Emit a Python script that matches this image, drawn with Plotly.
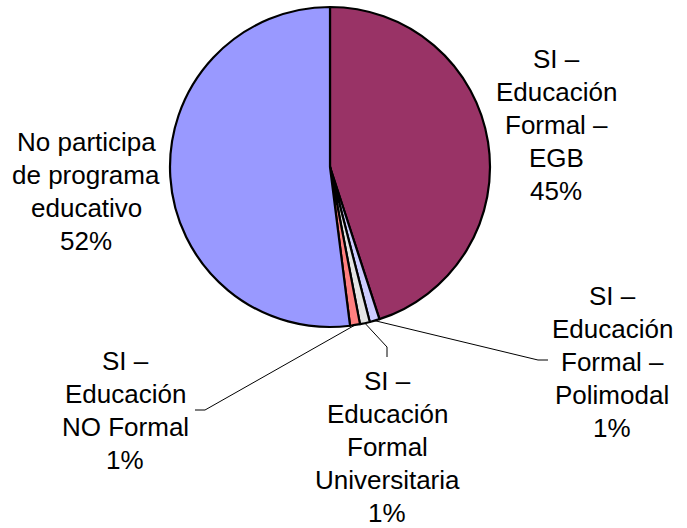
import math
import plotly.graph_objects as go

# ---- data ----
categories = [
    "SI – Educación Formal – EGB",
    "SI – Educación Formal – Polimodal",
    "SI – Educación Formal Universitaria",
    "SI – Educación NO Formal",
    "No participa de programa educativo",
]
values = [45, 1, 1, 1, 52]
label_lines = [
    ["SI –", "Educación", "Formal –", "EGB", "45%"],
    ["SI –", "Educación", "Formal –", "Polimodal", "1%"],
    ["SI –", "Educación", "Formal", "Universitaria", "1%"],
    ["SI –", "Educación", "NO Formal", "1%"],
    ["No participa", "de programa", "educativo", "52%"],
]
colors = ["#993366", "#CCCCFF", "#E4E4E4", "#FF8080", "#9999FF"]

# ---- layout constants (pixels) ----
W, H = 687, 528
CX, CY, R = 330, 167, 160
FONT = "Liberation Sans, Arial, sans-serif"
FS = 26
LINE_SP = 33

# label block positions: (center x, y of first line)
label_pos = [
    (556, 59),
    (612, 296),
    (387, 381),
    (125, 361),
    (86, 142),
]
# leader line bend points (after the slice-edge start point); None = no leader
leaders = [
    None,
    [(538, 360), (548, 360)],
    [(387, 347), (387, 357)],
    [(205, 410), (195, 410)],
    None,
]


def px(x):
    return x / W


def py(y):
    return 1 - y / H


fig = go.Figure(
    go.Pie(
        labels=categories,
        values=values,
        sort=False,
        direction="clockwise",
        rotation=0,
        textinfo="none",
        hoverinfo="label+percent",
        marker=dict(colors=colors, line=dict(color="black", width=2.2)),
        domain=dict(x=[px(CX - R), px(CX + R)], y=[py(CY + R), py(CY - R)]),
        showlegend=False,
    )
)

annotations = []
shapes = []
total = sum(values)
cum = 0
for i, v in enumerate(values):
    theta = 2 * math.pi * (cum + v / 2) / total
    cum += v
    lx, ly = label_pos[i]
    for k, line in enumerate(label_lines[i]):
        annotations.append(
            dict(
                x=px(lx), y=py(ly + k * LINE_SP), xref="paper", yref="paper",
                text=line, showarrow=False, xanchor="center", yanchor="middle",
                font=dict(family=FONT, size=FS, color="black"),
            )
        )
    if leaders[i]:
        sx = CX + R * math.sin(theta)
        sy = CY - R * math.cos(theta)
        pts = [(sx, sy)] + leaders[i]
        path = "M " + " L ".join(f"{px(a):.5f},{py(b):.5f}" for a, b in pts)
        shapes.append(
            dict(type="path", path=path, xref="paper", yref="paper",
                 line=dict(color="black", width=1))
        )

fig.update_layout(
    width=W, height=H,
    margin=dict(l=0, r=0, t=0, b=0),
    paper_bgcolor="white", plot_bgcolor="white",
    annotations=annotations, shapes=shapes,
)

fig.write_html(
    "out.html",
    config={"displayModeBar": False},
    post_script="document.body.style.margin='0';document.body.style.overflow='hidden';",
)
